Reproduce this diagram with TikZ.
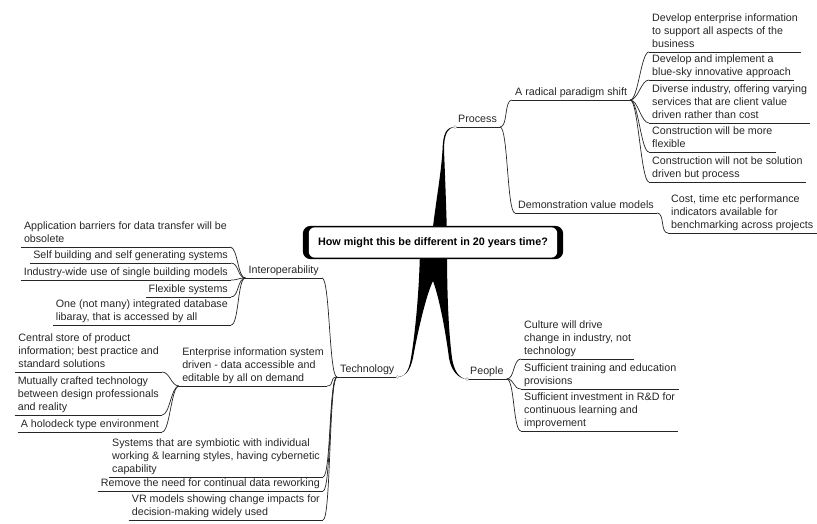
\documentclass[tikz,border=0pt]{standalone}
\usepackage{fontspec}
\setmainfont{Liberation Sans}
\usetikzlibrary{backgrounds}

\tikzset{
  topic/.style={align=left, inner xsep=3pt, inner ysep=2pt, text depth=2.5pt,
    text=black!85, font=\fontsize{10.7}{13}\selectfont},
  lft/.style={topic, anchor=south east},
  rgt/.style={topic, anchor=south west},
  uline/.style={line width=0.7pt, black!85},
  twig/.style={to path={.. controls +(8,0) and +(-8,0) .. (\tikztotarget)}},
  twigback/.style={to path={.. controls +(-8,0) and +(8,0) .. (\tikztotarget)}},
}

\begin{document}
\begin{tikzpicture}[x=1pt,y=-1pt]
\useasboundingbox (0,0) rectangle (817,524);

% central topic
\node[font=\bfseries\fontsize{10.8}{12}\selectfont, minimum width=260, minimum height=33] (root) at (433,242.5) {How might this be different in 20 years time?};

% process
\node[rgt] (proc) at (455,127) {Process};
\node[rgt] (rad)  at (512,100) {A radical paradigm shift};
\node[rgt] (dem)  at (515,213) {Demonstration value models};
\node[rgt] (r1) at (649,52)  {Develop enterprise information\\to support all aspects of the\\business};
\node[rgt] (r2) at (649,80)  {Develop and implement a\\blue-sky innovative approach};
\node[rgt] (r3) at (649,123) {Diverse industry, offering varying\\services that are client value\\driven rather than cost};
\node[rgt] (r4) at (649,152) {Construction will be more\\flexible};
\node[rgt] (r5) at (649,182) {Construction will not be solution\\driven but process};
\node[rgt] (d1) at (668,233) {Cost, time etc performance\\indicators available for\\benchmarking across projects};

% people
\node[rgt] (ppl) at (467,379) {People};
\node[rgt] (p1) at (521,359) {Culture will drive\\change in industry, not\\technology};
\node[rgt] (p2) at (521,389) {Sufficient training and education\\provisions};
\node[rgt] (p3) at (521,431) {Sufficient investment in R\&D for\\continuous learning and\\improvement};

% technology
\node[rgt] (tech)  at (337,377) {Technology};
\node[lft] (intop) at (322,278) {Interoperability};
\node[lft] (i1) at (230,247) {Application barriers for data transfer will be\\obsolete};
\node[lft] (i2) at (231,263) {Self building and self generating systems};
\node[lft] (i3) at (231,280) {Industry-wide use of single building models};
\node[lft] (i4) at (231,297) {Flexible systems};
\node[lft] (i5) at (231,325) {One (not many) integrated database\\libaray, that is accessed by all};
\node[lft] (ent) at (327,386) {Enterprise information system\\driven - data accessible and\\editable by all on demand};
\node[lft] (e1) at (162,372) {Central store of product\\information; best practice and\\standard solutions};
\node[lft] (e2) at (162,415) {Mutually crafted technology\\between design professionals\\and reality};
\node[lft] (e3) at (162,432) {A holodeck type environment};
\node[lft] (t1) at (323,477) {Systems that are symbiotic with individual\\working \& learning styles, having cybernetic\\capability};
\node[lft] (t2) at (323,491) {Remove the need for continual data reworking};
\node[lft] (t3) at (323,520) {VR models showing change impacts for\\decision-making widely used};

% underlines
\foreach \n in {proc,rad,dem,r1,r2,r3,r4,r5,d1,ppl,p1,p2,p3,tech,intop,i1,i2,i3,i4,i5,ent,e1,e2,e3,t1,t2,t3}
  \draw[uline] (\n.south west) -- (\n.south east);

% branches
\draw[uline] (proc.south east) edge[twig] (rad.south west) edge[twig] (dem.south west);
\draw[uline] (rad.south east) edge[twig] (r1.south west) edge[twig] (r2.south west)
  edge[twig] (r3.south west) edge[twig] (r4.south west) edge[twig] (r5.south west);
\draw[uline] (dem.south east) edge[twig] (d1.south west);
\draw[uline] (ppl.south east) edge[twig] (p1.south west) edge[twig] (p2.south west) edge[twig] (p3.south west);
\draw[uline] (tech.south west) edge[twigback] (intop.south east) edge[twigback] (ent.south east)
  edge[twigback] (t1.south east) edge[twigback] (t2.south east) edge[twigback] (t3.south east);
\draw[uline] (intop.south west) edge[twigback] (i1.south east) edge[twigback] (i2.south east)
  edge[twigback] (i3.south east) edge[twigback] (i4.south east) edge[twigback] (i5.south east);
\draw[uline] (ent.south west) edge[twigback] (e1.south east) edge[twigback] (e2.south east) edge[twigback] (e3.south east);

\foreach \n/\a in {proc/south west,tech/south east,ppl/south west}
  \draw[gray!60, fill=white, line width=0.5pt] (\n.\a) circle (1.6pt);

% trunks and frame of the central topic
\begin{scope}[on background layer]
\fill[black] (432,235) .. controls (436,200) and (441,175) .. (442.5,150)
  .. controls (443,134) and (446,127) .. (proc.south west)
  .. controls (447,128) and (444,135) .. (444,150)
  .. controls (445,175) and (446,200) .. (447,235) -- cycle;
\fill[black] (420,250) .. controls (419,300) and (414,340) .. (411,358)
  .. controls (409,371) and (405,377) .. (tech.south east)
  .. controls (406,376) and (410,371) .. (413,358)
  .. controls (417,335) and (426,295) .. (433,281)
  .. controls (440,300) and (446,335) .. (449,358)
  .. controls (451,370) and (458,379) .. (ppl.south west)
  .. controls (459,378.5) and (454,371) .. (452,358)
  .. controls (449,335) and (447,300) .. (447,250) -- cycle;
\fill[black, rounded corners=8pt] (root.north west) rectangle (root.south east);
\fill[white, rounded corners=6pt] ([xshift=6pt,yshift=-1.5pt]root.north west) rectangle ([xshift=-6pt,yshift=1.5pt]root.south east);
\end{scope}
\end{tikzpicture}
\end{document}
